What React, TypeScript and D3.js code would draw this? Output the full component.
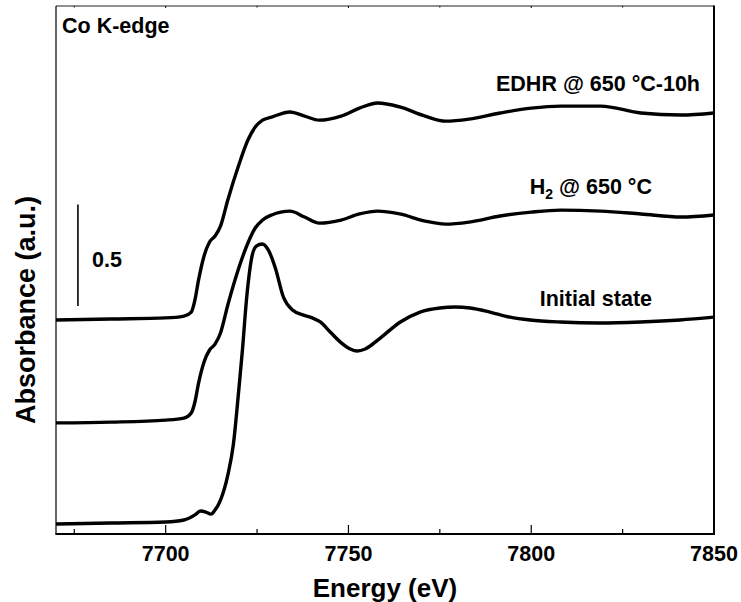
import React from "react";
import * as d3 from "d3";

// ---- data ----
const majorTicks = [7700, 7750, 7800, 7850];
const minorTicks = [7675, 7725, 7775, 7825];

const initialEnergy = [7670, 7685, 7700, 7705, 7708, 7709.5, 7711, 7712.4, 7713.5, 7715, 7717, 7718.5, 7720, 7721, 7722.1, 7723.7, 7724.8, 7726.4, 7728.1, 7730, 7732.2, 7734.7, 7737.7, 7740.1, 7742.3, 7745, 7747.8, 7750.5, 7752.4, 7754.6, 7758.7, 7764.2, 7769.6, 7775, 7779.2, 7783.3, 7788.7, 7794.2, 7799.7, 7807.9, 7818.8, 7829.8, 7840.7, 7850];
const initialAbs = [0.049, 0.054, 0.059, 0.069, 0.094, 0.113, 0.108, 0.098, 0.118, 0.167, 0.29, 0.438, 0.709, 0.906, 1.152, 1.374, 1.418, 1.428, 1.398, 1.31, 1.167, 1.103, 1.078, 1.064, 1.044, 0.995, 0.945, 0.911, 0.901, 0.911, 0.965, 1.044, 1.093, 1.113, 1.118, 1.113, 1.093, 1.068, 1.054, 1.044, 1.039, 1.044, 1.054, 1.068];

const reducedEnergy = [7670, 7685, 7700, 7705, 7707, 7708, 7709, 7710.5, 7712, 7713.5, 7715, 7717, 7720, 7722.5, 7724.5, 7726.5, 7729, 7734, 7738, 7742, 7748, 7753, 7758, 7764, 7771, 7776.5, 7783, 7791.5, 7800, 7808, 7819, 7830, 7841, 7850];
const h2Abs = [0.547, 0.551, 0.561, 0.571, 0.596, 0.65, 0.743, 0.847, 0.906, 0.935, 0.99, 1.128, 1.31, 1.433, 1.507, 1.546, 1.571, 1.59, 1.561, 1.531, 1.546, 1.576, 1.59, 1.576, 1.541, 1.526, 1.536, 1.566, 1.585, 1.595, 1.59, 1.576, 1.561, 1.571];
const edhrAbs = [1.054, 1.059, 1.064, 1.073, 1.093, 1.152, 1.251, 1.369, 1.438, 1.467, 1.516, 1.645, 1.817, 1.94, 2.004, 2.038, 2.053, 2.078, 2.058, 2.038, 2.058, 2.097, 2.122, 2.103, 2.058, 2.033, 2.043, 2.073, 2.097, 2.107, 2.107, 2.073, 2.063, 2.073];

const seriesLabels = ["Initial state", "H₂ @ 650 °C", "EDHR @ 650 °C-10h"];
const scaleBar = { energy: 7676, from: 1.123, size: 0.5, label: "0.5" };

const W = 741;
const H = 602;
const left = 56, right = 714, top = 6, bottom = 534;
const FONT = "'Liberation Sans', Arial, Helvetica, sans-serif";
const FS = 21.5;

export default function App() {
  const x = d3.scaleLinear().domain([7670, 7850]).range([left, right]);
  const y = d3.scaleLinear().domain([0, 2.6]).range([bottom, top]);
  const line = d3
    .line<[number, number]>()
    .x((d) => x(d[0]))
    .y((d) => y(d[1]))
    .curve(d3.curveMonotoneX);

  const series = [
    initialEnergy.map((e, i) => [e, initialAbs[i]] as [number, number]),
    reducedEnergy.map((e, i) => [e, h2Abs[i]] as [number, number]),
    reducedEnergy.map((e, i) => [e, edhrAbs[i]] as [number, number]),
  ];

  return (
    <div style={{ position: "absolute", left: 0, top: 0 }}>
      <svg width={W} height={H} style={{ display: "block", background: "#fff" }} fontFamily={FONT}>
        <defs>
          <clipPath id="plot">
            <rect x={left} y={top} width={right - left} height={bottom - top} />
          </clipPath>
        </defs>
        {/* curves */}
        <g clipPath="url(#plot)">
          {series.map((s, i) => (
            <path key={i} d={line(s) || ""} fill="none" stroke="#000" strokeWidth={3.4} strokeLinejoin="round" />
          ))}
        </g>
        {/* frame */}
        <line x1={left} x2={right} y1={top} y2={top} stroke="#222" strokeWidth={1.2} />
        <line x1={left} x2={left} y1={top} y2={bottom} stroke="#000" strokeWidth={1.2} />
        <line x1={right} x2={right} y1={top - 0.5} y2={bottom + 1} stroke="#000" strokeWidth={2} />
        <line x1={left - 0.6} x2={right + 1} y1={bottom} y2={bottom} stroke="#000" strokeWidth={1.8} />
        {/* ticks */}
        {majorTicks.map((t) => (
          <g key={"M" + t}>
            <line x1={x(t)} x2={x(t)} y1={bottom} y2={bottom - 9} stroke="#000" strokeWidth={1.2} />
            <line x1={x(t)} x2={x(t)} y1={top} y2={top + 2} stroke="#000" strokeWidth={1} />
            <text x={x(t)} y={561} textAnchor="middle" fontSize={FS} fontWeight="bold">{t}</text>
          </g>
        ))}
        {minorTicks.map((t) => (
          <g key={"m" + t}>
            <line x1={x(t)} x2={x(t)} y1={bottom} y2={bottom - 5} stroke="#000" strokeWidth={1.2} />
            <line x1={x(t)} x2={x(t)} y1={top} y2={top + 1.5} stroke="#000" strokeWidth={1} />
          </g>
        ))}
        {/* axis titles */}
        <text x={(left + right) / 2} y={597} textAnchor="middle" fontSize={26} fontWeight="bold">Energy (eV)</text>
        <text transform={`translate(35, 310) rotate(-90)`} textAnchor="middle" fontSize={27} fontWeight="bold">Absorbance (a.u.)</text>
        {/* scale bar */}
        <line x1={x(scaleBar.energy)} x2={x(scaleBar.energy)} y1={y(scaleBar.from)} y2={y(scaleBar.from + scaleBar.size)} stroke="#000" strokeWidth={1.6} />
        <text x={92} y={267} fontSize={FS} fontWeight="bold">{scaleBar.label}</text>
        {/* annotations */}
        <text x={62} y={33} fontSize={FS} fontWeight="bold">Co K-edge</text>
        <text x={652} y={306} textAnchor="end" fontSize={FS} fontWeight="bold">{seriesLabels[0]}</text>
        <text x={652} y={194} textAnchor="end" fontSize={FS} fontWeight="bold">
          H<tspan fontSize={14} dy={5}>2</tspan><tspan dy={-5}> @ 650 °C</tspan>
        </text>
        <text x={700} y={91} textAnchor="end" fontSize={FS} fontWeight="bold">{seriesLabels[2]}</text>
      </svg>
    </div>
  );
}
